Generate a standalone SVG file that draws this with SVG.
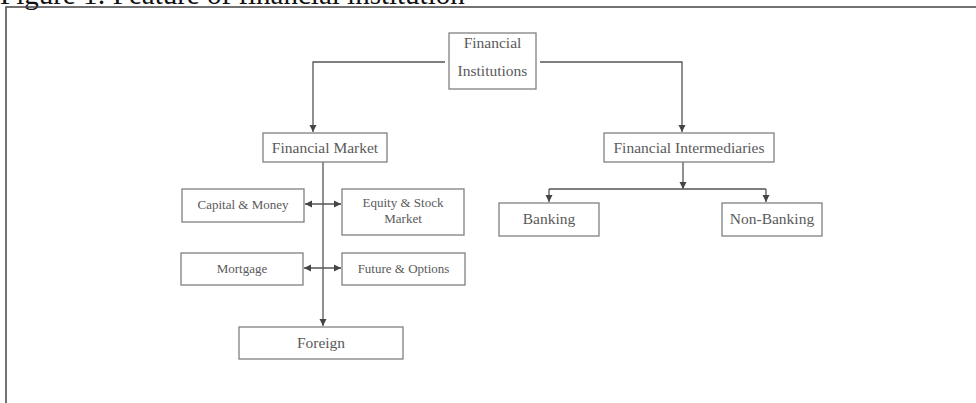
<svg xmlns="http://www.w3.org/2000/svg" width="976" height="403" viewBox="0 0 976 403">
<style>
.box{fill:#fff;stroke:#808080;stroke-width:1.3}
.t{font-family:"Liberation Serif","Times New Roman",serif;fill:#5a5a5a;text-anchor:middle}
.l{font-size:15.5px}
.s{font-size:13px}
.c{fill:none;stroke:#555;stroke-width:1.3}
</style>
<defs>
<marker id="ah" markerUnits="userSpaceOnUse" markerWidth="8" markerHeight="8" refX="7" refY="4" orient="auto-start-reverse">
<path d="M0,0.5 L7,4 L0,7.5 Z" fill="#444"/>
</marker>
</defs>
<rect width="976" height="403" fill="#fff"/>
<text x="0" y="4" font-family="Liberation Serif,serif" font-size="29px" fill="#111">Figure 1: Feature of financial institution</text>
<rect x="6" y="7" width="990" height="410" fill="none" stroke="#444" stroke-width="1.5"/>
<g id="connectors">
<path class="c" d="M445,62 H313 V132" marker-end="url(#ah)"/>
<path class="c" d="M540,62 H682 V132" marker-end="url(#ah)"/>
<path class="c" d="M323,162 V326" marker-end="url(#ah)"/>
<path class="c" d="M305,204 H341" marker-start="url(#ah)" marker-end="url(#ah)"/>
<path class="c" d="M304,268 H341" marker-start="url(#ah)" marker-end="url(#ah)"/>
<path class="c" d="M683,162 V189" marker-end="url(#ah)"/>
<path class="c" d="M549,189 H766"/>
<path class="c" d="M549,189 V202" marker-end="url(#ah)"/>
<path class="c" d="M766,189 V202" marker-end="url(#ah)"/>
</g>
<g id="financial-institutions">
<rect class="box" x="449" y="33" width="87" height="56"/>
<text class="t l" x="492.5" y="48">Financial</text>
<text class="t l" x="492.5" y="76">Institutions</text>
</g>
<g id="financial-market">
<rect class="box" x="263" y="133" width="124" height="29"/>
<text class="t l" x="325" y="153">Financial Market</text>
</g>
<g id="financial-intermediaries">
<rect class="box" x="604" y="133" width="170" height="29"/>
<text class="t l" x="689" y="153">Financial Intermediaries</text>
</g>
<g id="capital-money">
<rect class="box" x="182" y="189" width="122" height="33"/>
<text class="t s" x="243" y="209">Capital &amp; Money</text>
</g>
<g id="equity-stock">
<rect class="box" x="342" y="189" width="122" height="46"/>
<text class="t s" x="403" y="207">Equity &amp; Stock</text>
<text class="t s" x="403" y="223">Market</text>
</g>
<g id="mortgage">
<rect class="box" x="181" y="253" width="122" height="32"/>
<text class="t s" x="242" y="273">Mortgage</text>
</g>
<g id="future-options">
<rect class="box" x="342" y="253" width="123" height="32"/>
<text class="t s" x="403.5" y="273">Future &amp; Options</text>
</g>
<g id="foreign">
<rect class="box" x="239" y="327" width="164" height="32"/>
<text class="t l" x="321" y="348">Foreign</text>
</g>
<g id="banking">
<rect class="box" x="499" y="203" width="100" height="33"/>
<text class="t l" x="549" y="224">Banking</text>
</g>
<g id="non-banking">
<rect class="box" x="722" y="203" width="100" height="33"/>
<text class="t l" x="772" y="224">Non-Banking</text>
</g>
</svg>
